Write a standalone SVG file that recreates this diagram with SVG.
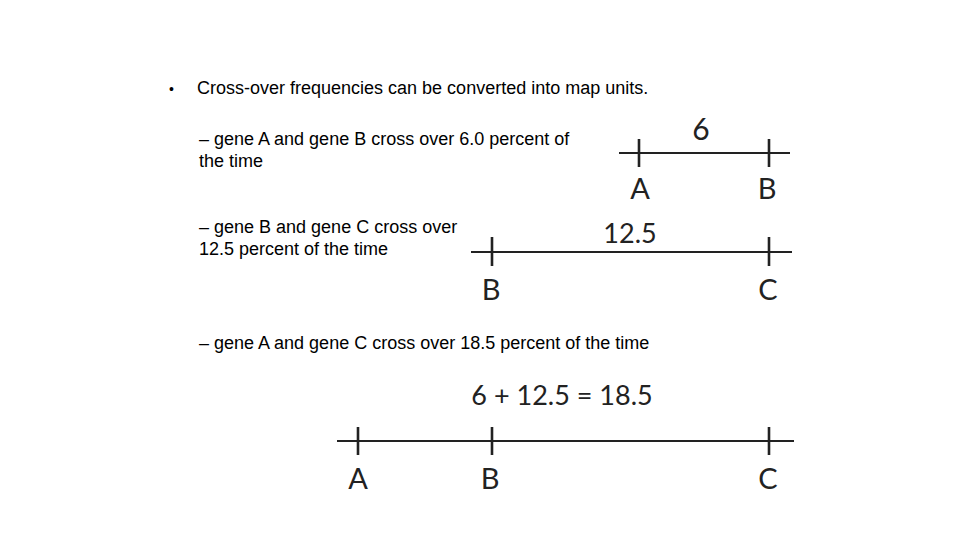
<svg xmlns="http://www.w3.org/2000/svg" width="960" height="540" viewBox="0 0 960 540">
<style>
.t{font-family:"Liberation Sans",Arial,sans-serif;font-size:18px;fill:#000}
.g{font-family:Lato,"Open Sans",sans-serif;font-size:27px;fill:#222;text-anchor:middle}
.L{font-size:29px}
.ln{stroke:#222;stroke-width:2;fill:none}
.tk{stroke:#222;stroke-width:2.6;fill:none}
</style>
<rect width="960" height="540" fill="#fff"/>
<g id="text">
<text class="t" x="169" y="94" style="font-size:14px">•</text>
<text class="t" x="197" y="94">Cross-over frequencies can be converted into map units.</text>
<text class="t" x="199" y="145">– gene A and gene B cross over 6.0 percent of</text>
<text class="t" x="199" y="167">the time</text>
<text class="t" x="199" y="233">– gene B and gene C cross over</text>
<text class="t" x="199" y="255">12.5 percent of the time</text>
<text class="t" x="199" y="349">– gene A and gene C cross over 18.5 percent of the time</text>
</g>
<g id="map1">
<path class="ln" d="M619 153H790"/>
<path class="tk" d="M639 139V167M769 139V167"/>
<text class="g" x="701" y="140" style="font-size:30px">6</text>
<text class="g L" x="640" y="199">A</text>
<text class="g L" x="767" y="199">B</text>
</g>
<g id="map2">
<path class="ln" d="M471 252H792"/>
<path class="tk" d="M492 237V266M769 237V266"/>
<text class="g" x="630" y="243">12.5</text>
<text class="g L" x="491" y="300">B</text>
<text class="g L" x="768" y="300">C</text>
</g>
<g id="map3">
<path class="ln" d="M337 441H794"/>
<path class="tk" d="M358 427V455M492 427V455M769 427V455"/>
<text class="g" x="562" y="405">6 + 12.5 = 18.5</text>
<text class="g L" x="358" y="489">A</text>
<text class="g L" x="490" y="489">B</text>
<text class="g L" x="768" y="489">C</text>
</g>
</svg>
